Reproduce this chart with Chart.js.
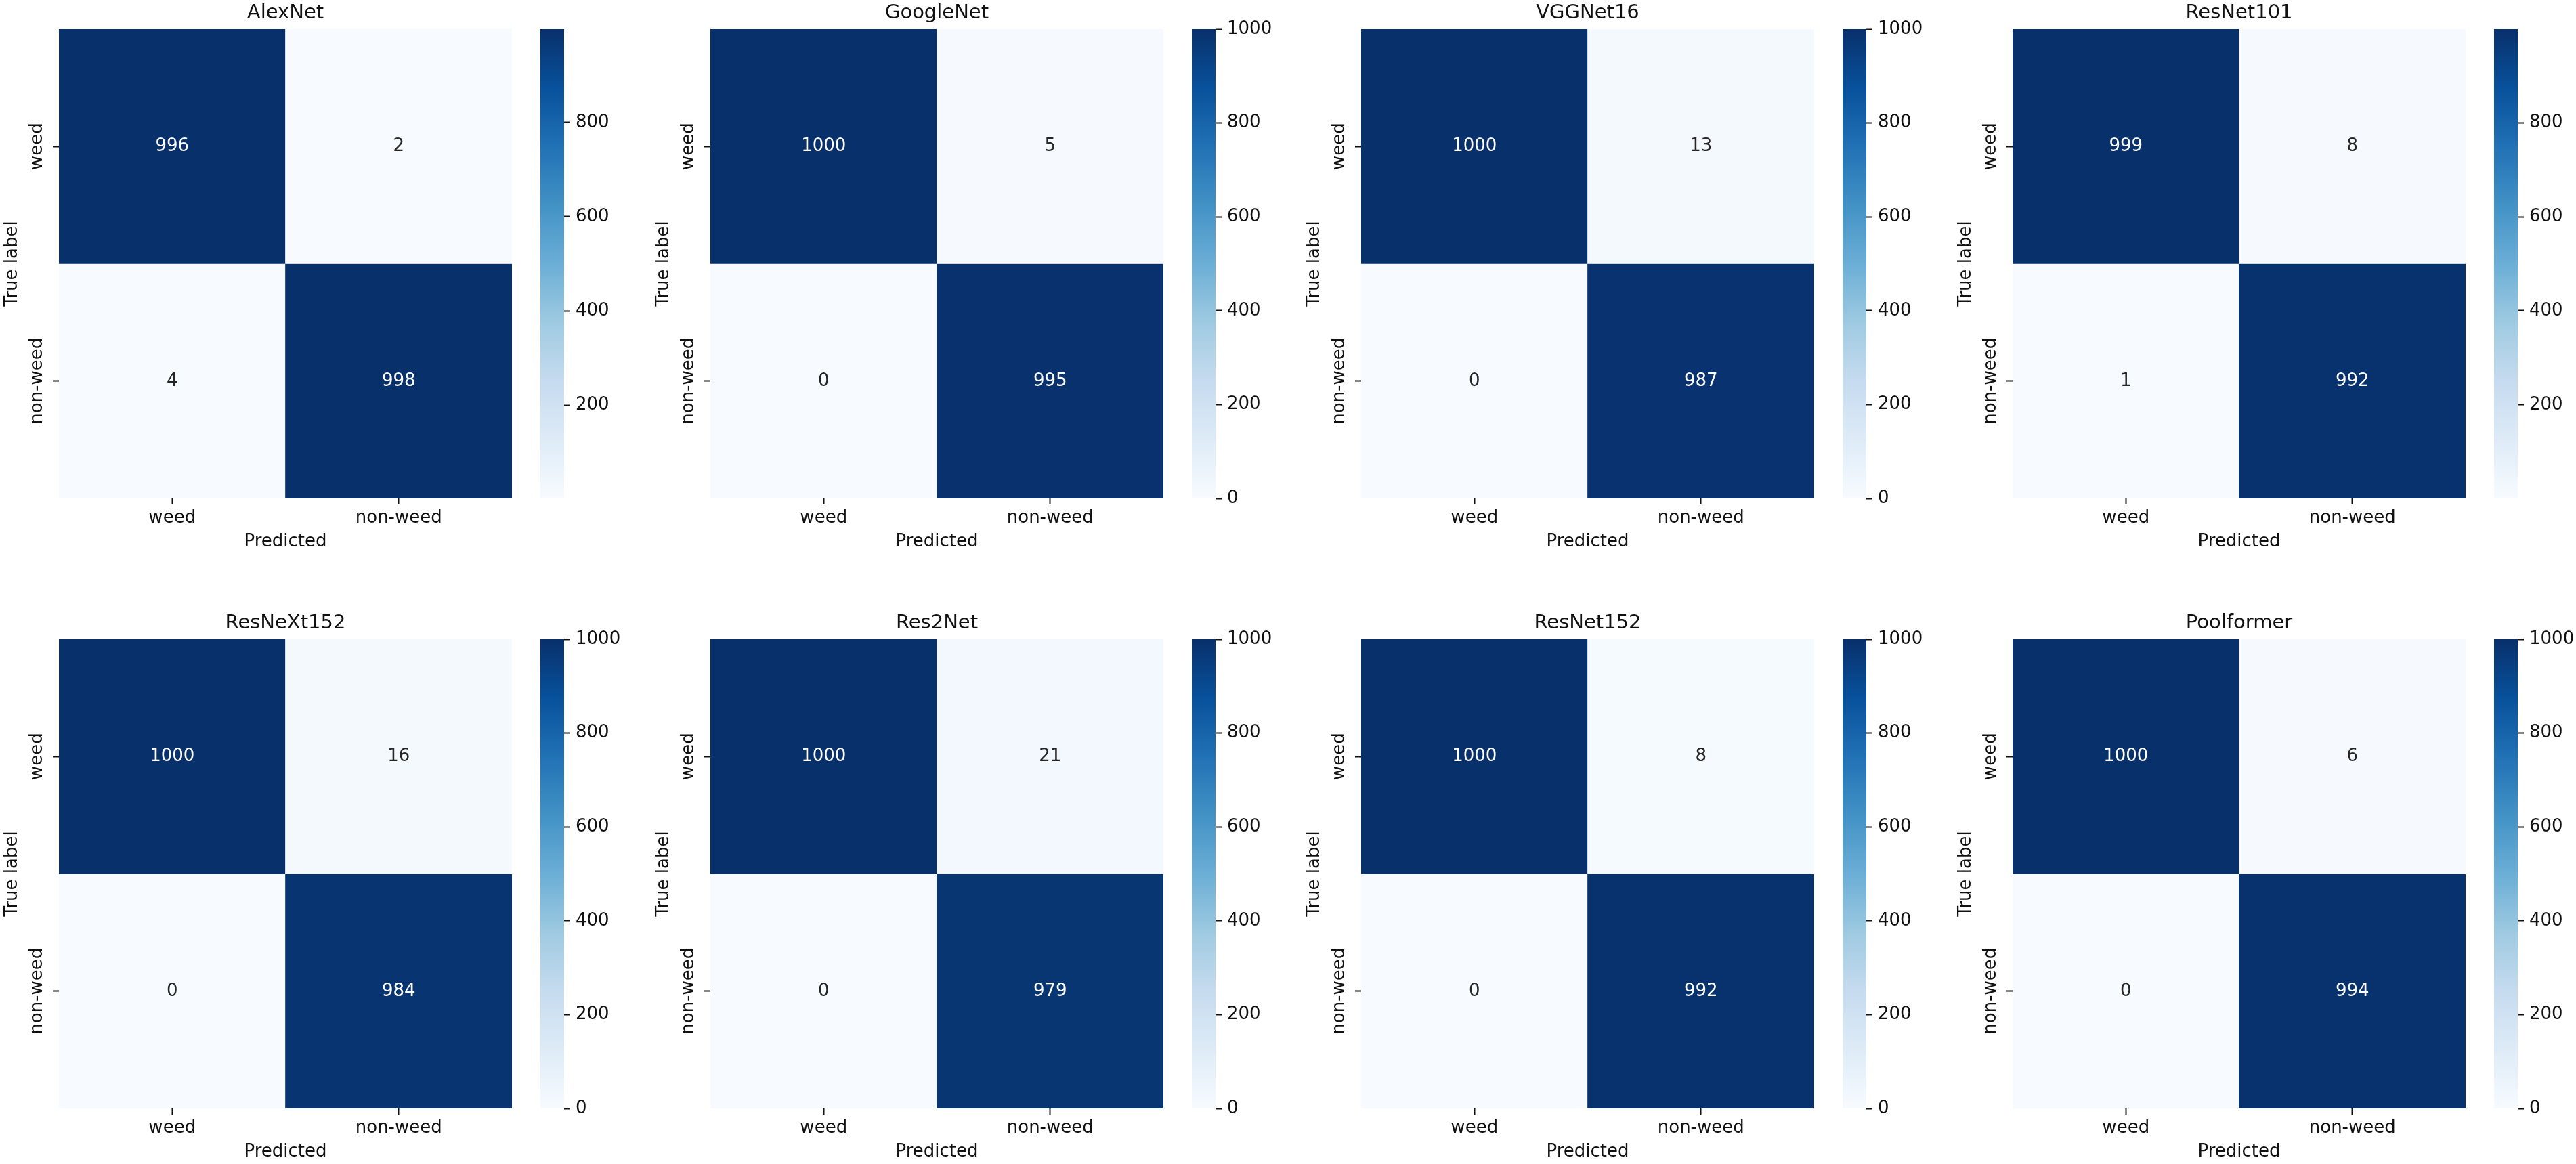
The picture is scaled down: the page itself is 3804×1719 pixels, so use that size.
<!DOCTYPE html>
<html>
<head>
<meta charset="utf-8">
<script src="https://cdn.jsdelivr.net/npm/chart.js@4.4.1/dist/chart.umd.min.js"></script>
<style>
  html, body { margin: 0; padding: 0; background: #fff; overflow: hidden; }
  #app { position: relative; width: 3804px; height: 1719px; }
  canvas { position: absolute; }
</style>
</head>
<body>
<div id="app"></div>
<script>
// Models, one confusion matrix each (rows = true label, cols = predicted)
const models = ['AlexNet', 'GoogleNet', 'VGGNet16', 'ResNet101', 'ResNeXt152', 'Res2Net', 'ResNet152', 'Poolformer'];
const classLabels = ['weed', 'non-weed'];
const weedRow = [[996, 2], [1000, 5], [1000, 13], [999, 8], [1000, 16], [1000, 21], [1000, 8], [1000, 6]];
const nonWeedRow = [[4, 998], [0, 995], [0, 987], [1, 992], [0, 984], [0, 979], [0, 992], [0, 994]];
const colorbarTicks = [0, 200, 400, 600, 800, 1000];

// matplotlib "Blues"
const BLUES = ['#f7fbff', '#deebf7', '#c6dbef', '#9ecae1', '#6baed6', '#4292c6', '#2171b5', '#08519c', '#08306b'];

const FONT = { family: 'DejaVu Sans', size: 26 };
const TITLE_FONT = { family: 'DejaVu Sans', size: 29, weight: 'normal' };
const TEXT = '#111';

function hexToRgb(h) {
  return [parseInt(h.slice(1, 3), 16), parseInt(h.slice(3, 5), 16), parseInt(h.slice(5, 7), 16)];
}

function blues(t) {
  t = Math.max(0, Math.min(1, t));
  const pos = t * (BLUES.length - 1);
  const i = Math.min(Math.floor(pos), BLUES.length - 2);
  const f = pos - i;
  const a = hexToRgb(BLUES[i]), b = hexToRgb(BLUES[i + 1]);
  return a.map((v, k) => Math.round(v + (b[k] - v) * f));
}

function luminance(rgb) {
  const c = rgb.map(v => {
    v /= 255;
    return v <= 0.03928 ? v / 12.92 : Math.pow((v + 0.055) / 1.055, 2.4);
  });
  return 0.2126 * c[0] + 0.7152 * c[1] + 0.0722 * c[2];
}

// annotate each cell with its count
const annotatePlugin = {
  id: 'annotate',
  afterDatasetsDraw(chart) {
    const ctx = chart.ctx;
    ctx.save();
    ctx.font = `${FONT.size}px ${FONT.family}`;
    ctx.textAlign = 'center';
    ctx.textBaseline = 'middle';
    chart.data.datasets.forEach((ds, d) => {
      chart.getDatasetMeta(d).data.forEach((bar, i) => {
        const { x, y, base } = bar.getProps(['x', 'y', 'base'], true);
        ctx.fillStyle = ds.textColors[i];
        ctx.fillText(String(ds.counts[i]), x, (y + base) / 2);
      });
    });
    ctx.restore();
  }
};

// rotated tick labels on the true-label axis
const yLabelPlugin = {
  id: 'yLabels',
  afterDraw(chart) {
    const scale = chart.scales.y;
    const ctx = chart.ctx;
    ctx.save();
    ctx.font = `${FONT.size}px ${FONT.family}`;
    ctx.fillStyle = TEXT;
    ctx.textAlign = 'center';
    ctx.textBaseline = 'alphabetic';
    scale.ticks.forEach((tick, i) => {
      ctx.save();
      ctx.translate(scale.right - 25, scale.getPixelForValue(tick.value));
      ctx.rotate(-Math.PI / 2);
      ctx.fillText(classLabels[i], 0, 0);
      ctx.restore();
    });
    ctx.restore();
  }
};

function makeCanvas(left, top, w, h) {
  const c = document.createElement('canvas');
  c.width = w;
  c.height = h;
  c.style.left = left + 'px';
  c.style.top = top + 'px';
  c.style.width = w + 'px';
  c.style.height = h + 'px';
  document.getElementById('app').appendChild(c);
  return c;
}

function renderPanel(idx) {
  const col = idx % 4, row = Math.floor(idx / 4);
  const ox = Math.round(col * 961.7), oy = row * 901;
  const matrix = [weedRow[idx], nonWeedRow[idx]];
  const flat = matrix.flat();
  const vmin = Math.min(...flat), vmax = Math.max(...flat);

  const datasets = matrix.map((counts, r) => {
    const rgbs = counts.map(v => blues((v - vmin) / (vmax - vmin)));
    return {
      data: counts.map(() => [r, r + 1]),
      counts,
      backgroundColor: rgbs.map(c => `rgb(${c.join(',')})`),
      textColors: rgbs.map(c => luminance(c) > 0.408 ? '#262626' : '#ffffff'),
      borderWidth: 0,
      grouped: false,
      barPercentage: 1,
      categoryPercentage: 1
    };
  });

  new Chart(makeCanvas(ox, oy, 780, 830), {
    type: 'bar',
    data: { labels: classLabels, datasets },
    options: {
      responsive: false,
      animation: false,
      devicePixelRatio: 1,
      layout: { padding: { left: 0, right: 24, top: 0, bottom: 0 } },
      plugins: {
        legend: { display: false },
        tooltip: { enabled: false },
        title: {
          display: true,
          text: models[idx],
          fullSize: false,
          color: TEXT,
          font: TITLE_FONT,
          padding: { top: 1.6, bottom: 6.6 }
        }
      },
      scales: {
        x: {
          grid: { drawOnChartArea: false, drawTicks: true, tickLength: 9, tickWidth: 2, color: TEXT, offset: false },
          border: { display: false },
          ticks: { color: TEXT, font: FONT, padding: 4.4, maxRotation: 0 },
          title: { display: true, text: 'Predicted', color: TEXT, font: FONT, padding: { top: 0, bottom: 14.4 } },
          afterFit: s => { s.height = 94; }
        },
        y: {
          type: 'linear',
          min: 0,
          max: 2,
          reverse: true,
          afterBuildTicks: s => { s.ticks = [{ value: 0.5 }, { value: 1.5 }]; },
          grid: { drawOnChartArea: false, drawTicks: true, tickLength: 9, tickWidth: 2, color: TEXT },
          border: { display: false },
          ticks: { display: false },
          title: { display: true, text: 'True label', color: TEXT, font: FONT, padding: { top: 2.4, bottom: 0 } },
          afterFit: s => { s.width = 87; }
        }
      }
    },
    plugins: [annotatePlugin, yLabelPlugin]
  });

  // colorbar
  new Chart(makeCanvas(ox + 790, oy, 171, 760), {
    type: 'bar',
    data: {
      labels: [''],
      datasets: [{
        data: [[vmin, vmax]],
        borderWidth: 0,
        barPercentage: 1,
        categoryPercentage: 1,
        backgroundColor: (context) => {
          const { ctx, chartArea } = context.chart;
          if (!chartArea) return BLUES[0];
          const g = ctx.createLinearGradient(0, chartArea.bottom, 0, chartArea.top);
          BLUES.forEach((c, i) => g.addColorStop(i / (BLUES.length - 1), c));
          return g;
        }
      }]
    },
    options: {
      responsive: false,
      animation: false,
      devicePixelRatio: 1,
      layout: { padding: { left: 8, right: 0, top: 43, bottom: 24 } },
      plugins: { legend: { display: false }, tooltip: { enabled: false } },
      scales: {
        x: { display: false },
        y: {
          position: 'right',
          min: vmin,
          max: vmax,
          afterBuildTicks: s => {
            s.ticks = colorbarTicks.filter(v => v >= vmin && v <= vmax).map(v => ({ value: v }));
          },
          grid: { drawOnChartArea: false, drawTicks: true, tickLength: 9, tickWidth: 2, color: TEXT },
          border: { display: false },
          ticks: { color: TEXT, font: FONT, padding: 8, callback: v => String(v) },
          afterFit: s => { s.width = 128; }
        }
      }
    }
  });
}

models.forEach((m, i) => renderPanel(i));
</script>
</body>
</html>
